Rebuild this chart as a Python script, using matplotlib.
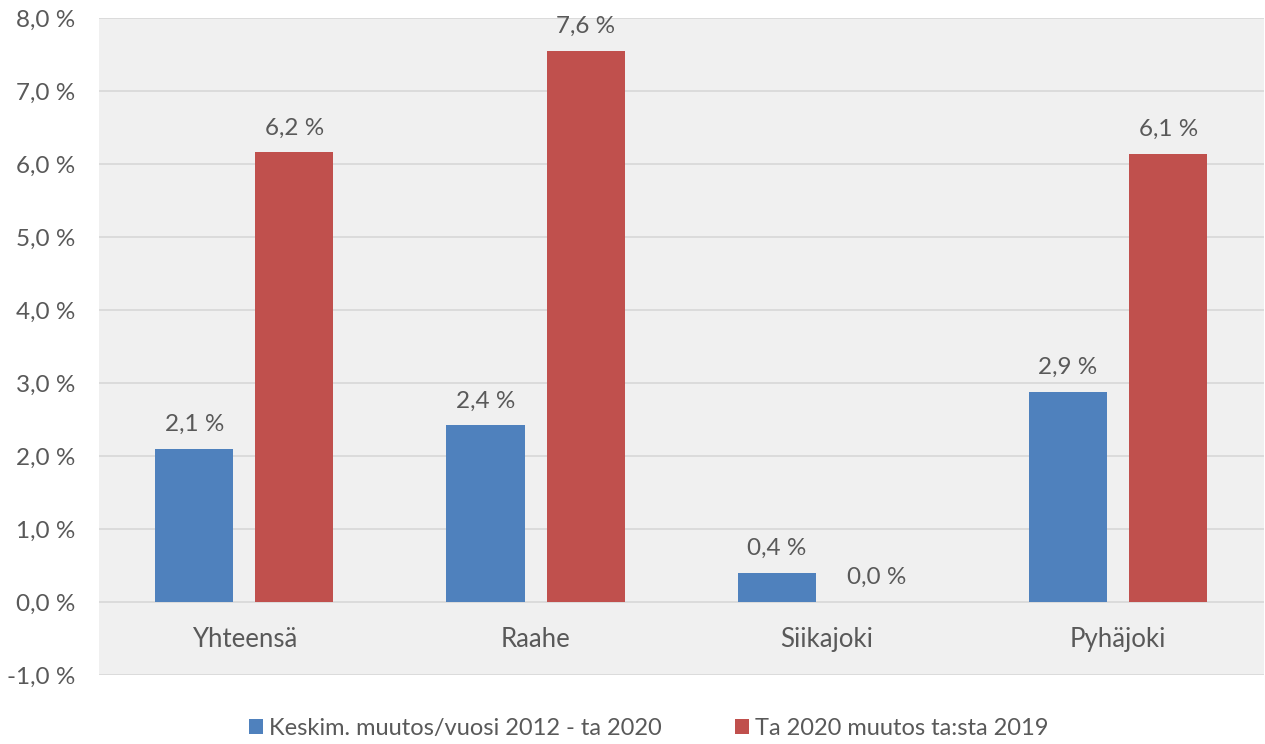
import matplotlib
matplotlib.use("Agg")
import matplotlib.pyplot as plt
import numpy as np
from matplotlib.ticker import FixedLocator

categories = ["Yhteensä", "Raahe", "Siikajoki", "Pyhäjoki"]
avg_change = [2.1, 2.42, 0.4, 2.88]
year_change = [6.16, 7.55, 0.0, 6.14]
avg_labels = ["2,1 %", "2,4 %", "0,4 %", "2,9 %"]
year_labels = ["6,2 %", "7,6 %", "0,0 %", "6,1 %"]
yticks = [-1, 0, 1, 2, 3, 4, 5, 6, 7, 8]
ytick_labels = ["-1,0 %", "0,0 %", "1,0 %", "2,0 %", "3,0 %", "4,0 %", "5,0 %", "6,0 %", "7,0 %", "8,0 %"]
series_names = ["Keskim. muutos/vuosi 2012 - ta 2020", "Ta 2020 muutos ta:sta 2019"]

plt.rcParams['font.family'] = ['Lato', 'DejaVu Sans']
txt = '#595959'
blue = '#4F81BD'
red = '#C0504D'

fig = plt.figure(figsize=(12.65, 7.44), dpi=100)
ax = fig.add_axes([0.078, 0.0927, 0.921, 0.883])
ax.set_facecolor('#F0F0F0')

x = np.arange(len(categories))
w = 0.268
off = 0.172
b1 = ax.bar(x - off, avg_change, w, color=blue, label=series_names[0], zorder=3)
b2 = ax.bar(x + off, year_change, w, color=red, label=series_names[1], zorder=3)

for bars, labs in ((b1, avg_labels), (b2, year_labels)):
    for rect, lab in zip(bars, labs):
        ax.annotate(lab, (rect.get_x() + rect.get_width() / 2, rect.get_height()),
                    xytext=(0, 10), textcoords='offset points', ha='center', va='bottom',
                    fontsize=17.5, color=txt)

ax.set_xlim(-0.5, len(categories) - 0.5)
ax.set_ylim(-1, 8)
ax.yaxis.set_major_locator(FixedLocator(yticks))
ax.set_yticklabels(ytick_labels, fontsize=17.5, color=txt)
ax.tick_params(axis='y', length=0, pad=17)
ax.yaxis.grid(True, color='#D9D9D9', linewidth=1.3, zorder=0)
ax.set_xticks([])
for s in ax.spines.values():
    s.set_visible(False)

for xi, c in zip(x, categories):
    ax.text(xi, -0.52, c, ha='center', va='center', fontsize=18.5, color=txt)

handles = [b1, b2]
fig.legend(handles, series_names, loc='center', bbox_to_anchor=(0.513, 0.021), ncol=2,
           frameon=False, fontsize=17, labelcolor=txt, handlelength=0.6, handleheight=0.6,
           handletextpad=0.25, columnspacing=3.1)

fig.savefig('out.png', dpi=100, facecolor='white')
